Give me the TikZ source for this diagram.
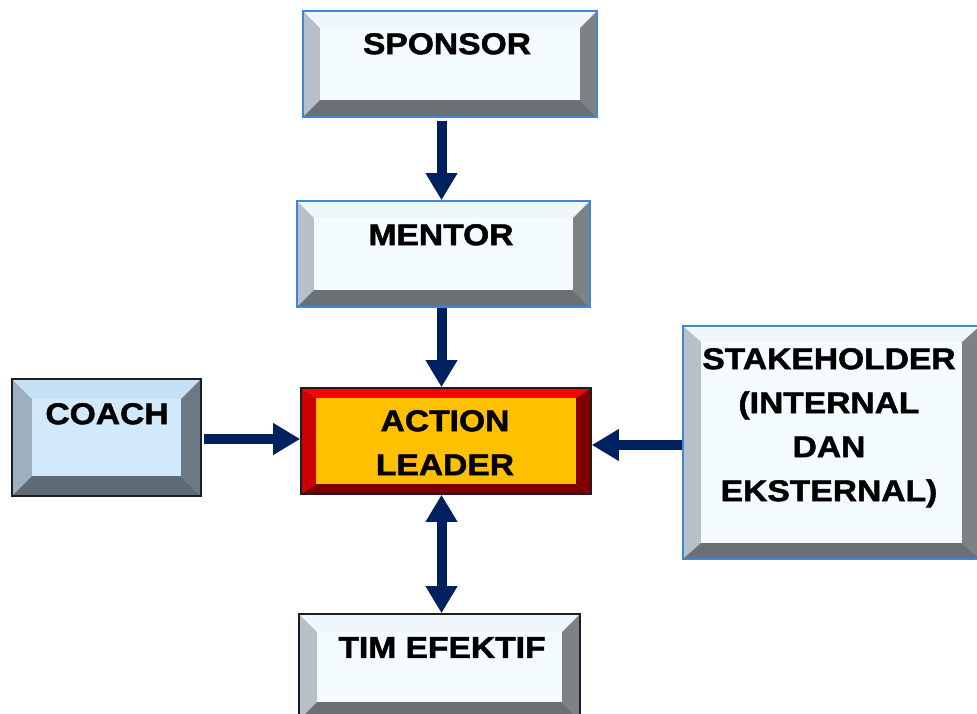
\documentclass[tikz,border=0pt]{standalone}
\usepackage{fontspec}
\setmainfont{Liberation Sans}[FakeStretch=1.12, BoldFeatures={FakeBold=1.6}]
\usetikzlibrary{arrows.meta,fit}
\definecolor{paleF}{HTML}{F5FCFF}
\definecolor{paleT}{HTML}{F0F7FB}
\definecolor{paleL}{HTML}{B7C0C8}
\definecolor{paleR}{HTML}{7D8287}
\definecolor{paleB}{HTML}{6B7074}
\definecolor{coachF}{HTML}{D2E8FB}
\definecolor{coachT}{HTML}{C8E0F4}
\definecolor{coachL}{HTML}{9EAFBF}
\definecolor{coachR}{HTML}{6B7985}
\definecolor{coachB}{HTML}{5E6B75}
\definecolor{actF}{HTML}{FFC000}
\definecolor{actT}{HTML}{FF0000}
\definecolor{actL}{HTML}{CC0000}
\definecolor{actR}{HTML}{800000}
\definecolor{actB}{HTML}{7A0000}
\definecolor{bordblue}{HTML}{3F86D4}
\definecolor{borddark}{HTML}{1E1E1E}
\definecolor{arrowblue}{HTML}{002060}
% #1 name, #2 x1, #3 y1, #4 x2, #5 y2, #6 bevel x, #7 bevel y, #8 palette, #9 border
\newcommand\bevbox[9]{%
  \pgfmathsetmacro\bbAx{#2+#6}\pgfmathsetmacro\bbAy{#3+#7}%
  \pgfmathsetmacro\bbBx{#4-#6}\pgfmathsetmacro\bbBy{#5-#7}%
  \fill[#8T] (#2,#3) -- (#4,#3) -- (\bbBx,\bbAy) -- (\bbAx,\bbAy) -- cycle;
  \fill[#8L] (#2,#3) -- (\bbAx,\bbAy) -- (\bbAx,\bbBy) -- (#2,#5) -- cycle;
  \fill[#8R] (#4,#3) -- (#4,#5) -- (\bbBx,\bbBy) -- (\bbBx,\bbAy) -- cycle;
  \fill[#8B] (#2,#5) -- (\bbAx,\bbBy) -- (\bbBx,\bbBy) -- (#4,#5) -- cycle;
  \fill[#8F] (\bbAx,\bbAy) rectangle (\bbBx,\bbBy);
  \node[fit={(#2,#3)(#4,#5)}, inner sep=0pt, draw=#9, line width=1.6pt] (#1) {};%
}
\tikzset{
  lbl/.style={font=\fontsize{30}{44}\selectfont\bfseries, align=center, inner sep=0pt, anchor=north, text=black},
  arr/.style={draw=arrowblue, line width=10pt, -{Triangle[width=30pt,length=27pt]}},
  darr/.style={draw=arrowblue, line width=10pt, {Triangle[width=30pt,length=27pt]}-{Triangle[width=30pt,length=27pt]}}
}
\begin{document}
\begin{tikzpicture}[x=1pt,y=-1pt]
\useasboundingbox (0,0) rectangle (977,713);
\fill[white] (0,0) rectangle (977,713);
\bevbox{sponsor}{303}{11}{597}{117}{17}{17}{pale}{bordblue}
\bevbox{mentor}{297}{201}{590}{307}{17}{17}{pale}{bordblue}
\bevbox{action}{301}{388}{591}{494}{15}{10}{act}{borddark}
\bevbox{coach}{12}{379}{201}{496}{20}{20}{coach}{borddark}
\bevbox{stake}{683}{326}{980}{559}{18}{16}{pale}{bordblue}
\bevbox{tim}{299}{614}{580}{720}{18}{18}{pale}{borddark}
\node[lbl] (tsponsor) at (447,33) {SPONSOR};
\node[lbl] (tmentor) at (441,224) {MENTOR};
\node[lbl] (taction) at (445,410) {ACTION\\LEADER};
\node[lbl] (tcoach) at (107,403) {COACH};
\node[lbl] (tstake) at (829,348) {STAKEHOLDER\\(INTERNAL\\DAN\\EKSTERNAL)};
\node[lbl] (ttim) at (442,637) {TIM EFEKTIF};
\coordinate (ax) at (441.5,0);
\coordinate (hc) at (0,439);
\coordinate (hs) at (0,445);
\draw[arr, shorten <=3pt] (sponsor.south -| ax) -- (mentor.north -| ax);
\draw[arr] (mentor.south -| ax) -- (action.north -| ax);
\draw[arr, shorten <=2pt] (coach.east |- hc) -- (action.west |- hc);
\draw[arr] (stake.west |- hs) -- (action.east |- hs);
\draw[darr] (action.south -| ax) -- (tim.north -| ax);
\end{tikzpicture}
\end{document}
